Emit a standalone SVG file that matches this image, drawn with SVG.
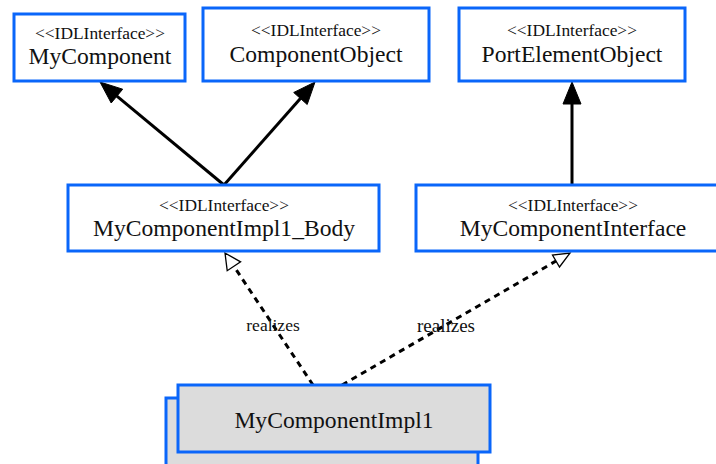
<svg xmlns="http://www.w3.org/2000/svg" width="716" height="464" viewBox="0 0 716 464">
<style>
.box{fill:#ffffff;stroke:#0a66fa;stroke-width:3}
.impl{fill:#dcdcdc;stroke:#0a66fa;stroke-width:3}
.st{font-family:"Liberation Serif",serif;font-size:17.4px;fill:#111;text-anchor:middle}
.nm{font-family:"Liberation Serif",serif;font-size:23.6px;fill:#111;text-anchor:middle}
.lbl{font-family:"Liberation Serif",serif;font-size:17.5px;fill:#111;text-anchor:middle}
.solid{stroke:#000;stroke-width:3;fill:none}
.dash{stroke:#000;stroke-width:3;fill:none;stroke-dasharray:6,5}
.head{fill:#000;stroke:#000;stroke-width:1}
.open{fill:#fff;stroke:#000;stroke-width:1.3}
</style>
<rect width="716" height="464" fill="#fff"/>
<g id="connectors">
<line class="solid" x1="224" y1="185" x2="116.9" y2="96.1"/>
<polygon class="head" points="100,82 122.7,89.2 111.2,103"/>
<line class="solid" x1="224" y1="185" x2="300.4" y2="98.5"/>
<polygon class="head" points="315,82 307.2,104.5 293.7,92.5"/>
<line class="solid" x1="572" y1="185" x2="572" y2="104"/>
<polygon class="head" points="572,82 563,104 581,104"/>
<line class="dash" x1="313" y1="385" x2="233.9" y2="266.3"/>
<polygon class="open" points="225,253 240.6,261.9 227.2,270.7"/>
<line class="dash" x1="342" y1="385" x2="556" y2="261"/>
<polygon class="open" points="570,253 559.5,267 552.5,255"/>
<text class="lbl" x="273" y="331">realizes</text>
<text class="lbl" x="446" y="332" style="font-size:19px">realizes</text>
</g>
<g id="MyComponent">
<rect class="box" x="14" y="14" width="171" height="67"/>
<text class="st" x="100" y="39">&lt;&lt;IDLInterface&gt;&gt;</text>
<text class="nm" x="100" y="64">MyComponent</text>
</g>
<g id="ComponentObject">
<rect class="box" x="203" y="8" width="226" height="73"/>
<text class="st" x="316" y="36">&lt;&lt;IDLInterface&gt;&gt;</text>
<text class="nm" x="316" y="62">ComponentObject</text>
</g>
<g id="PortElementObject">
<rect class="box" x="459" y="8" width="226" height="73"/>
<text class="st" x="572" y="36">&lt;&lt;IDLInterface&gt;&gt;</text>
<text class="nm" x="572" y="62">PortElementObject</text>
</g>
<g id="MyComponentImpl1_Body">
<rect class="box" x="68" y="185" width="311" height="66"/>
<text class="st" x="224" y="211">&lt;&lt;IDLInterface&gt;&gt;</text>
<text class="nm" x="224" y="236">MyComponentImpl1_Body</text>
</g>
<g id="MyComponentInterface">
<rect class="box" x="416" y="185" width="320" height="66"/>
<text class="st" x="573" y="211">&lt;&lt;IDLInterface&gt;&gt;</text>
<text class="nm" x="573" y="236">MyComponentInterface</text>
</g>
<g id="MyComponentImpl1">
<rect class="impl" x="166" y="398" width="312" height="80"/>
<rect class="impl" x="178" y="385" width="312" height="67"/>
<text class="nm" x="334" y="428">MyComponentImpl1</text>
</g>
</svg>
